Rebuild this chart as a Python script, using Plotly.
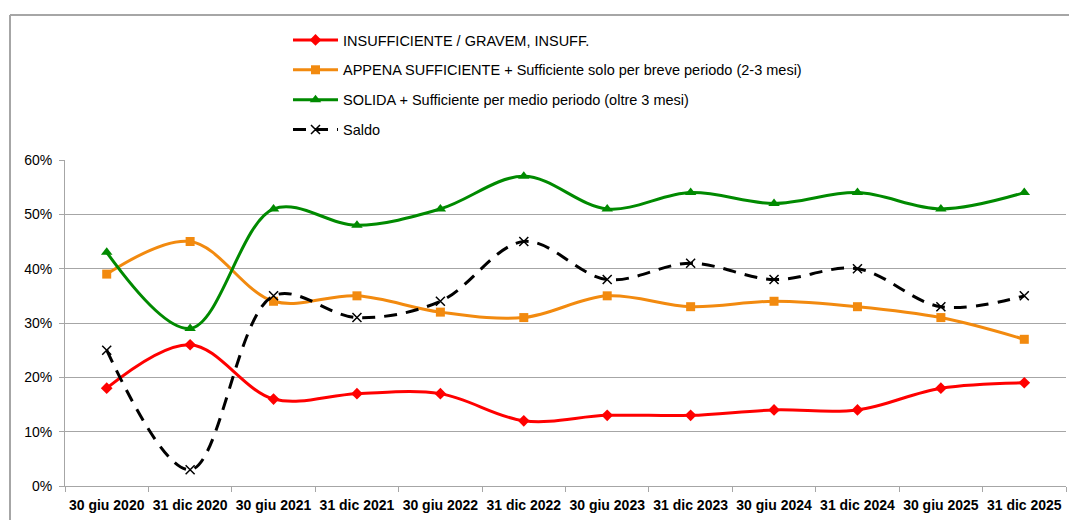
import plotly.graph_objects as go

categories = ["30 giu 2020", "31 dic 2020", "30 giu 2021", "31 dic 2021", "30 giu 2022", "31 dic 2022",
              "30 giu 2023", "31 dic 2023", "30 giu 2024", "31 dic 2024", "30 giu 2025", "31 dic 2025"]
insufficiente = [18, 26, 16, 17, 17, 12, 13, 13, 14, 14, 18, 19]
appena = [39, 45, 34, 35, 32, 31, 35, 33, 34, 33, 31, 27]
solida = [43, 29, 51, 48, 51, 57, 51, 54, 52, 54, 51, 54]
saldo = [25, 3, 35, 31, 34, 45, 38, 41, 38, 40, 33, 35]

names = ["INSUFFICIENTE / GRAVEM, INSUFF.",
         "APPENA SUFFICIENTE + Sufficiente solo per breve periodo (2-3 mesi)",
         "SOLIDA + Sufficiente per medio periodo (oltre 3 mesi)",
         "Saldo"]

FONT = "Liberation Sans, Arial, sans-serif"
fig = go.Figure()
series = [
    (insufficiente, "#FF0000", "diamond", 9, "solid", 3),
    (appena, "#F28A0F", "square", 9, "solid", 3),
    (solida, "#008A00", "triangle-up", 10, "solid", 3),
    (saldo, "#000000", "x-thin", 9, "13px,9px", 3),
]
for i, (vals, col, sym, ms, dash, w) in enumerate(series):
    marker = dict(symbol=sym, size=ms, color=col)
    if sym == "x-thin":
        marker["line"] = dict(color=col, width=1.5)
    fig.add_trace(go.Scatter(
        x=categories, y=vals, name=names[i], mode="lines+markers",
        line=dict(color=col, width=w, shape="spline", smoothing=1.0, dash=dash),
        marker=marker, legendgroup=f"g{i}",
    ))

W, H = 1069, 520
L, R, T, B = 65, 3, 160, 34
pw, ph = W - L - R, H - T - B

def px(x):
    return (x - L) / pw

def py(y):
    return (H - B - y) / ph

fig.update_layout(
    width=W, height=H,
    margin=dict(l=L, r=R, t=T, b=B),
    paper_bgcolor="white", plot_bgcolor="white",
    font=dict(family=FONT, size=14, color="#000000"),
    showlegend=True,
    legend=dict(x=px(288), y=py(24), xanchor="left", yanchor="top",
                font=dict(family=FONT, size=14.5, color="#000"),
                itemwidth=45, tracegroupgap=8, bgcolor="rgba(0,0,0,0)"),
    xaxis=dict(type="category", range=[-0.5, 11.5], showgrid=False,
               showline=True, linecolor="#A6A6A6", linewidth=1,
               ticks="outside", tickson="boundaries", ticklen=5, tickcolor="#A6A6A6",
               tickfont=dict(family=FONT, size=14, color="#000", weight="bold"), tickangle=0,
               ticklabelstandoff=6, fixedrange=True),
    yaxis=dict(range=[0, 60], dtick=10, ticksuffix="%", showgrid=True,
               gridcolor="#A6A6A6", gridwidth=1, zeroline=False,
               showline=True, linecolor="#A6A6A6", linewidth=1,
               ticks="outside", ticklen=5, tickcolor="#A6A6A6",
               tickfont=dict(family=FONT, size=14, color="#000"),
               ticklabelstandoff=4, fixedrange=True),
    shapes=[
        dict(type="line", xref="paper", yref="paper", x0=px(10), x1=px(1069), y0=py(15), y1=py(15),
             line=dict(color="#A6A6A6", width=2)),
        dict(type="line", xref="paper", yref="paper", x0=px(10), x1=px(10), y0=py(15), y1=py(520),
             line=dict(color="#A6A6A6", width=2)),
    ],
)
fig.write_html("out.html", config={"displayModeBar": False},
               post_script="document.body.style.margin='0';document.body.style.overflow='hidden';")
